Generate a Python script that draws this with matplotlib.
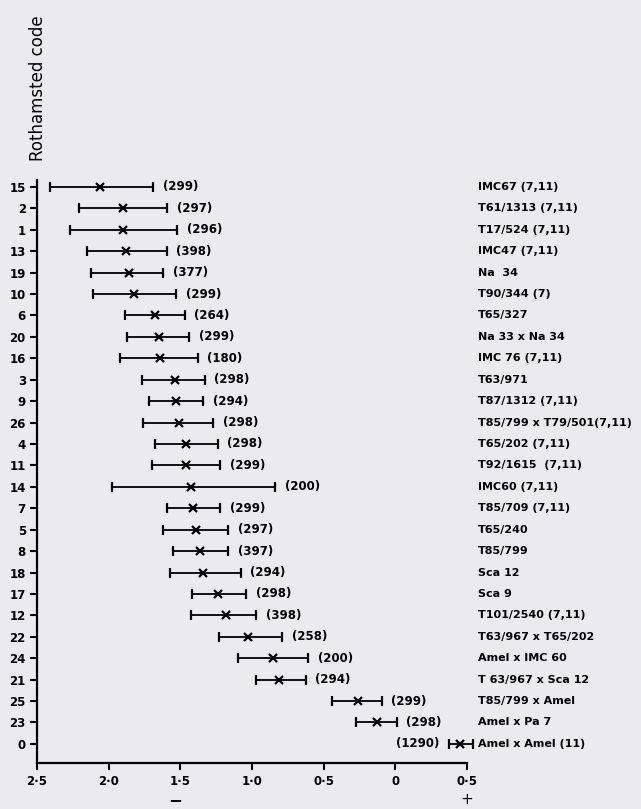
import matplotlib.pyplot as plt
import matplotlib.transforms as mtransforms

# rows listed top to bottom
codes = ['15', '2', '1', '13', '19', '10', '6', '20', '16', '3', '9', '26', '4', '11',
         '14', '7', '5', '8', '18', '17', '12', '22', '24', '21', '25', '23', '0']
names = ['IMC67 (7,11)', 'T61/1313 (7,11)', 'T17/524 (7,11)', 'IMC47 (7,11)', 'Na  34',
         'T90/344 (7)', 'T65/327', 'Na 33 x Na 34', 'IMC 76 (7,11)', 'T63/971',
         'T87/1312 (7,11)', 'T85/799 x T79/501(7,11)', 'T65/202 (7,11)', 'T92/1615  (7,11)',
         'IMC60 (7,11)', 'T85/709 (7,11)', 'T65/240', 'T85/799', 'Sca 12', 'Sca 9',
         'T101/2540 (7,11)', 'T63/967 x T65/202', 'Amel x IMC 60', 'T 63/967 x Sca 12',
         'T85/799 x Amel', 'Amel x Pa 7', 'Amel x Amel (11)']
counts = [299, 297, 296, 398, 377, 299, 264, 299, 180, 298, 294, 298, 298, 299,
          200, 299, 297, 397, 294, 298, 398, 258, 200, 294, 299, 298, 1290]
means = [-2.06, -1.90, -1.90, -1.88, -1.86, -1.82, -1.68, -1.65, -1.64, -1.54, -1.53,
         -1.51, -1.46, -1.46, -1.425, -1.41, -1.39, -1.36, -1.34, -1.235, -1.18, -1.03,
         -0.855, -0.81, -0.258, -0.125, 0.45]
lower = [-2.41, -2.21, -2.27, -2.15, -2.12, -2.11, -1.886, -1.87, -1.92, -1.77, -1.72,
         -1.76, -1.68, -1.70, -1.98, -1.59, -1.62, -1.55, -1.57, -1.42, -1.425, -1.23,
         -1.095, -0.97, -0.44, -0.276, 0.375]
upper = [-1.69, -1.59, -1.52, -1.595, -1.62, -1.53, -1.47, -1.44, -1.38, -1.33, -1.34,
         -1.27, -1.24, -1.22, -0.84, -1.22, -1.165, -1.165, -1.08, -1.04, -0.97, -0.79,
         -0.607, -0.625, -0.095, 0.01, 0.545]
xticks = [-2.5, -2.0, -1.5, -1.0, -0.5, 0.0, 0.5]
xticklabels = ['2·5', '2·0', '1·5', '1·0', '0·5', '0', '0·5']

bg = '#ebebed'
plt.rcParams['font.family'] = ['DejaVu Sans']
plt.rcParams['font.weight'] = 'bold'

fig = plt.figure(figsize=(6.41, 8.09), dpi=100, facecolor=bg)
ax = fig.add_axes([0.0577, 0.0569, 0.6708, 0.72])
ax.set_facecolor(bg)

n = len(codes)
ypos = [n - 1 - i for i in range(n)]

for i in range(n):
    m = means[i]
    ax.errorbar(m, ypos[i], xerr=[[m - lower[i]], [upper[i] - m]], fmt='x',
                color='black', ms=5.5, mew=1.6, elinewidth=1.3, capsize=3.5,
                capthick=1.5, clip_on=False)
    if codes[i] == '0':
        ax.annotate('(%d)' % counts[i], (lower[i], ypos[i]), xytext=(-7, 0),
                    textcoords='offset points', ha='right', va='center',
                    fontsize=8.5, fontweight='bold')
    else:
        ax.annotate('(%d)' % counts[i], (upper[i], ypos[i]), xytext=(7, 0),
                    textcoords='offset points', ha='left', va='center',
                    fontsize=8.5, fontweight='bold')

# strain names in a column to the right
trans = mtransforms.blended_transform_factory(fig.transFigure, ax.transData)
for i in range(n):
    ax.text(0.745, ypos[i], names[i], transform=trans, ha='left', va='center',
            fontsize=8, fontweight='bold', clip_on=False)

ax.set_xlim(-2.5, 0.5)
ax.set_ylim(-0.89, n - 0.7)
ax.set_yticks(ypos)
ax.set_yticklabels(codes, fontsize=8.5, fontweight='bold')
ax.set_xticks(xticks)
ax.set_xticklabels(xticklabels, fontsize=8.5, fontweight='bold')
ax.tick_params(axis='y', length=5, width=1.5, pad=3)
ax.tick_params(axis='x', length=5, width=1.5, pad=4)

for s in ['top', 'right']:
    ax.spines[s].set_visible(False)
for s in ['left', 'bottom']:
    ax.spines[s].set_linewidth(1.6)

fig.text(0.06, 1 - 88 / 809, 'Rothamsted code', rotation=90, ha='center', va='center',
         fontsize=12, fontweight='normal')
fig.text(175 / 641, 1 - 800 / 809, '−', ha='center', va='center', fontsize=12)
fig.text(467 / 641, 1 - 800 / 809, '+', ha='center', va='center', fontsize=11,
         fontweight='normal')

fig.savefig('out.png', dpi=100, facecolor=bg)
